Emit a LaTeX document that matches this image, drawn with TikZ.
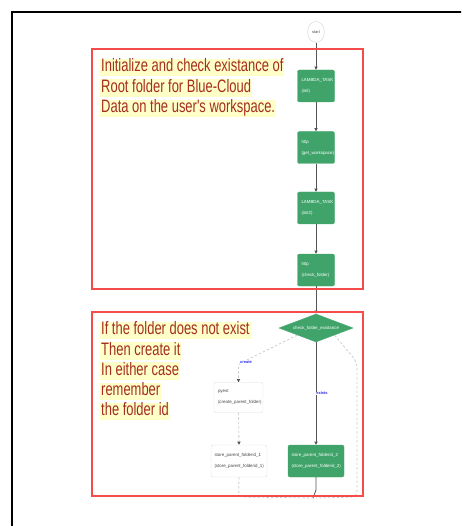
\documentclass[tikz,border=0pt]{standalone}
\usepackage{fontspec}
\setmainfont{Liberation Sans}
\newfontfamily\notefont[FakeStretch=0.72]{Liberation Sans}
\usetikzlibrary{shapes.geometric,arrows.meta}

\definecolor{gnode}{RGB}{64,164,106}
\definecolor{edgegray}{RGB}{85,85,85}
\definecolor{dashgray}{RGB}{205,205,205}
\definecolor{notered}{RGB}{165,45,35}
\definecolor{noteyellow}{RGB}{255,255,200}
\definecolor{boxred}{RGB}{245,75,75}
\definecolor{lblblue}{RGB}{40,40,230}
\definecolor{wborder}{RGB}{222,222,222}
\definecolor{wtext}{RGB}{70,70,70}

\begin{document}
\begin{tikzpicture}[x=1pt,y=-1pt,
  every node/.style={inner sep=0pt},
  nodetxt/.style={font=\fontsize{4.4}{11}\selectfont, align=left},
  gtask/.style={nodetxt, draw=gnode, fill=gnode, rounded corners=2pt, text=white,
    minimum width=37pt, minimum height=32pt, text width=29pt},
  wtask/.style={nodetxt, draw=wborder, fill=white, rounded corners=2pt, text=wtext,
    minimum height=30pt},
  flow/.style={draw=edgegray, line width=0.8pt, -{Triangle[width=3.2pt,length=3.2pt]}},
  dflow/.style={draw=dashgray, line width=0.8pt, dash pattern=on 2.5pt off 2pt,
    -{Triangle[width=3.2pt,length=3.2pt,color=edgegray]}},
  dline/.style={draw=dashgray, line width=0.8pt, dash pattern=on 2.5pt off 2pt, rounded corners=6pt},
  sline/.style={draw=edgegray, line width=0.8pt},
  lbl/.style={font=\bfseries\fontsize{4}{4}\selectfont, text=lblblue, fill=white, inner sep=0.5pt},
  note/.style={anchor=west, fill=noteyellow, text=notered, inner xsep=1pt,
    text height=13pt, text depth=4.5pt, font=\notefont\fontsize{18}{20}\selectfont},
  redbox/.style={draw=boxred, line width=1.7pt}
]
\clip (0,0) rectangle (461,526);

% outer black frame
\draw[line width=2.7pt] (12,545) -- (12,12) -- (480,12);

% nodes
\node[ellipse, draw=wborder, fill=white, line width=0.6pt, minimum width=17pt, minimum height=21pt,
  font=\fontsize{4}{4}\selectfont, text=wtext] (start) at (316,32) {start};
\node[gtask] (lam1) at (316,86) {LAMBDA\_TASK\\(init)};
\node[gtask] (http1) at (316,147.5) {http\\(get\_workspace)};
\node[gtask] (lam2) at (316,208) {LAMBDA\_TASK\\(init2)};
\node[gtask] (http2) at (316,270) {http\\(check\_folder)};
\node[diamond, aspect=2.6, draw=gnode, fill=gnode, minimum width=74pt, minimum height=28pt,
  text=white, font=\fontsize{4.4}{5}\selectfont] (diam) at (316,328) {check\_folder\_existance};
\node[wtask, minimum width=49pt, text width=41pt] (pyest) at (238.5,397.5) {pyest\\(create\_parent\_folder)};
\node[wtask, minimum width=56pt, minimum height=32pt, text width=49pt] (store1) at (239,461)
  {store\_parent\_folderid\_1\\(store\_parent\_folderid\_1)};
\node[gtask, minimum width=56pt, text width=49pt] (store2) at (316,461)
  {store\_parent\_folderid\_2\\(store\_parent\_folderid\_2)};
\coordinate (cbend) at (238.5,364);
\coordinate (rbend) at (357,362);
\coordinate (merge) at (316,498);

% connectors
\draw[flow] (start) -- (lam1);
\draw[flow] (lam1) -- (http1);
\draw[flow] (http1) -- (lam2);
\draw[flow] (lam2) -- (http2);
\draw[flow] (http2) -- (diam);
\draw[dflow, rounded corners=3pt] (diam.south west) -- (cbend) -- (pyest.north);
\draw[flow] (diam.south) -- (store2.north) node[lbl, pos=0.5, xshift=6pt] {exists};
\node[lbl] (lcreate) at (246,362) {create};
\draw[dflow] (pyest.south) -- (store1.north);
\draw[dline] (store1.south) -- (238.5,497) -- (merge);
\draw[sline] (store2.south) -- (316,490) -- (313,498);
\draw[dline] (diam.south east) -- (rbend) -- (357,497) -- (merge);

% notes
\node[note] (n1) at (100,67.5) {Initialize and check existance of};
\node[note] (n2) at (100,88) {Root folder for Blue-Cloud};
\node[note] (n3) at (100,108.5) {Data on the user's workspace.};
\node[note] (m1) at (100,330.5) {If the folder does not exist};
\node[note] (m2) at (100,351) {Then create it};
\node[note] (m3) at (100,371) {In either case};
\node[note] (m4) at (100,391.5) {remember};
\node[note] (m5) at (100,411.5) {the folder id};

% red annotation boxes
\draw[redbox] (92,49) rectangle (363,289);
\draw[redbox] (92,312) rectangle (363,496);
\end{tikzpicture}
\end{document}
